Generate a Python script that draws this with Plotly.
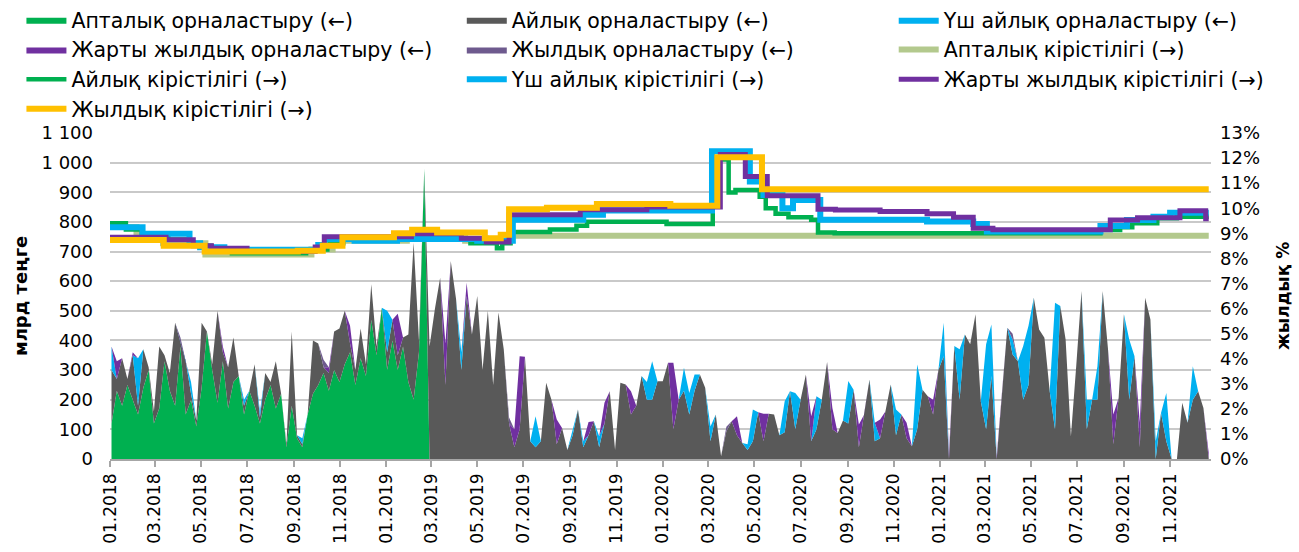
import pandas as pd
import plotly.graph_objects as go

# ---------------- data ----------------
weeks = pd.date_range("2018-01-03", periods=208, freq="7D")

# weekly notes placement (bln tenge), weeks 0..59 (none afterwards)
weekly_place = [120, 230, 180, 250, 200, 150, 240, 300, 120, 170,
                330, 230, 180, 380, 150, 200, 110, 240, 430, 300,
                190, 330, 170, 260, 280, 150, 230, 180, 120, 200,
                250, 170, 220, 40, 180, 70, 40, 150, 220, 250,
                290, 230, 300, 260, 320, 360, 250, 340, 280, 470,
                350, 510, 300, 400, 300, 380, 260, 200, 360, 980]

# monthly notes placement, weeks 0..207
monthly_place = [180, 40, 160, 20, 150, 30, 130, 10, 40, 210,
                 20, 60, 280, 10, 180, 20, 20, 220, 0, 20,
                 310, 30, 140, 150, 0, 30, 0, 140, 20, 90,
                 10, 160, 0, 10, 250, 10, 10, 0, 180, 140,
                 20, 60, 130, 180, 180, 30, 50, 100, 40, 120,
                 30, 0, 60, 70, 50, 30, 160, 530, 40, 0,
                 380, 505, 612, 250, 668, 540, 300, 550, 420, 550,
                 300, 500, 250, 494, 370, 120, 40, 100, 345, 60,
                 40, 60, 257, 200, 50, 105, 30, 80, 167, 40,
                 80, 127, 40, 120, 229, 30, 257, 251, 150, 180,
                 280, 200, 200, 262, 262, 325, 100, 200, 230, 150,
                 230, 285, 240, 60, 150, 9, 94, 127, 80, 54,
                 30, 60, 158, 60, 153, 150, 80, 90, 229, 100,
                 200, 285, 60, 100, 200, 327, 100, 88, 130, 120,
                 234, 40, 150, 268, 60, 70, 160, 251, 80, 150,
                 70, 43, 100, 234, 212, 150, 300, 347, 0, 381,
                 200, 420, 387, 488, 195, 100, 280, 0, 220, 443,
                 353, 330, 200, 250, 544, 437, 409, 229, 100, 516,
                 403, 76, 313, 567, 100, 200, 200, 567, 370, 50,
                 206, 488, 200, 347, 40, 544, 471, 0, 155, 60,
                 0, 0, 190, 122, 200, 229, 172, 0]

# three-month notes placement (week number -> value)
three_m_weeks = [0, 5, 15, 25, 28, 36, 52, 66, 80, 87, 89, 92, 101, 102, 108, 109, 110,
                 113, 120, 121, 127, 129, 133, 139, 144, 148, 152, 157, 160, 165, 166,
                 170, 172, 173, 178, 184, 186, 192, 197, 199, 204]
three_m_place = [80, 160, 40, 20, 20, 20, 140, 60, 104, 20, 20, 37, 60, 130, 78, 73, 55,
                 50, 20, 107, 105, 123, 112, 143, 62, 87, 219, 113, 170, 287, 174,
                 50, 181, 200, 427, 100, 113, 203, 60, 163, 113]

# six-month notes placement
half_y_weeks = [1, 4, 21, 41, 45, 54, 63, 67, 76, 77, 84, 90, 93, 98, 106, 118, 123,
                132, 136, 141, 145, 150, 155, 158, 167, 189, 194, 207]
half_y_place = [60, 10, 20, 20, 60, 140, 140, 45, 60, 247, 83, 45, 70, 79, 225, 64, 93,
                84, 72, 76, 63, 52, 50, 20, 10, 100, 82, 20]

# annual notes placement
year_weeks = [13, 40, 75, 116, 170]
year_place = [20, 25, 20, 15, 20]

# yields, % (change dates and levels)
wk_y_dates = ["2018-01-01", "2018-02-05", "2018-03-12", "2018-05-07", "2018-09-24",
              "2018-10-22", "2019-01-28", "2019-04-15", "2019-06-10", "2021-12-22"]
wk_y = [9.25, 8.95, 8.6, 8.15, 8.35, 8.7, 8.85, 8.7, 8.9, 8.9]

m_y_dates = ["2018-01-01", "2018-01-22", "2018-02-12", "2018-03-19", "2018-04-16",
             "2018-05-14", "2018-06-11", "2018-09-17", "2018-10-15", "2018-11-05",
             "2019-02-04", "2019-03-11", "2019-04-22", "2019-05-13", "2019-05-27",
             "2019-06-03", "2019-06-14", "2019-08-05", "2019-09-09", "2019-09-23",
             "2020-01-06", "2020-03-07", "2020-03-28", "2020-04-06", "2020-05-08",
             "2020-05-16", "2020-05-29", "2020-06-15", "2020-07-15", "2020-07-24",
             "2020-08-15", "2021-08-01", "2021-08-27", "2021-09-12", "2021-10-15",
             "2021-11-10", "2021-12-22"]
m_y = [9.4, 9.15, 8.95, 8.75, 8.5,
       8.3, 8.2, 8.35, 8.6, 8.8,
       8.9, 8.8, 8.6, 8.6, 8.4,
       8.6, 9.05, 9.15, 9.3, 9.46,
       9.37, 11.94, 10.63, 10.73, 10.46,
       10.0, 9.78, 9.64, 9.54, 9.03,
       9.0, 9.13, 9.24, 9.4, 9.6,
       9.66, 9.66]

q_y_dates = ["2018-01-01", "2018-02-13", "2018-04-16", "2018-04-30", "2018-06-01",
             "2018-10-03", "2018-10-12", "2018-11-20", "2019-01-15", "2019-05-01",
             "2019-06-17", "2019-09-18", "2019-10-14", "2020-03-06", "2020-04-25",
             "2020-05-13", "2020-06-07", "2020-06-21", "2020-07-27", "2020-12-15",
             "2021-02-14", "2021-03-04", "2021-08-01", "2021-09-05", "2021-10-10",
             "2021-11-01", "2021-12-22"]
q_y = [9.24, 8.98, 8.6, 8.44, 8.34,
       8.53, 8.77, 8.7, 8.77, 8.7,
       9.54, 9.74, 9.91, 12.27, 11.07,
       10.53, 10.0, 10.33, 9.54, 9.47,
       9.37, 9.07, 9.29, 9.53, 9.66,
       9.82, 9.82]

h_y_dates = ["2018-01-01", "2018-03-16", "2018-04-21", "2018-05-15", "2018-07-01",
             "2018-09-29", "2018-10-11", "2019-02-03", "2019-04-10", "2019-05-13",
             "2019-06-12", "2019-09-14", "2019-12-11", "2020-03-17", "2020-04-19",
             "2020-05-18", "2020-07-24", "2020-08-16", "2020-10-14", "2020-12-15",
             "2021-01-19", "2021-02-14", "2021-03-12", "2021-08-14", "2021-09-19",
             "2021-11-14", "2021-12-18", "2021-12-22"]
h_y = [8.84, 8.74, 8.5, 8.4, 8.27,
       8.45, 8.86, 8.98, 8.8, 8.65,
       9.74, 9.94, 10.05, 12.14, 11.27,
       10.5, 9.96, 9.93, 9.87, 9.78,
       9.64, 9.2, 9.14, 9.53, 9.62,
       9.9, 9.58, 9.58]

y_y_dates = ["2018-01-01", "2018-03-13", "2018-05-06", "2018-09-06", "2018-10-09",
             "2018-11-04", "2019-01-11", "2019-02-04", "2019-03-09", "2019-05-11",
             "2019-06-01", "2019-06-12", "2019-08-01", "2019-10-06", "2020-01-11",
             "2020-03-13", "2020-05-11", "2021-12-22"]
y_y = [8.73, 8.5, 8.27, 8.3, 8.5,
       8.84, 9.0, 9.14, 9.03, 8.8,
       8.94, 9.96, 10.02, 10.17, 10.1,
       12.03, 10.76, 10.76]

x_ticks = ["2018-01-01", "2018-03-01", "2018-05-01", "2018-07-01", "2018-09-01", "2018-11-01",
           "2019-01-01", "2019-03-01", "2019-05-01", "2019-07-01", "2019-09-01", "2019-11-01",
           "2020-01-01", "2020-03-01", "2020-05-01", "2020-07-01", "2020-09-01", "2020-11-01",
           "2021-01-01", "2021-03-01", "2021-05-01", "2021-07-01", "2021-09-01", "2021-11-01"]
x_tick_text = ["01.2018", "03.2018", "05.2018", "07.2018", "09.2018", "11.2018",
               "01.2019", "03.2019", "05.2019", "07.2019", "09.2019", "11.2019",
               "01.2020", "03.2020", "05.2020", "07.2020", "09.2020", "11.2020",
               "01.2021", "03.2021", "05.2021", "07.2021", "09.2021", "11.2021"]
y_ticks = [0, 100, 200, 300, 400, 500, 600, 700, 800, 900, 1000, 1100]
y_tick_text = ["0", "100", "200", "300", "400", "500", "600", "700", "800", "900", "1 000", "1 100"]
y2_ticks = [0, 1, 2, 3, 4, 5, 6, 7, 8, 9, 10, 11, 12, 13]
y2_tick_text = ["0%", "1%", "2%", "3%", "4%", "5%", "6%", "7%", "8%", "9%", "10%", "11%", "12%", "13%"]

left_title = "млрд теңге"
right_title = "жылдық %"

# ---------------- figure ----------------
FONT = "DejaVu Sans"
fig = go.Figure()

areas = [
    ("Апталық орналастыру (←)", weeks[:len(weekly_place)], weekly_place, "#00B050", "legend"),
    ("Айлық орналастыру (←)", weeks, monthly_place, "#595959", "legend2"),
    ("Үш айлық орналастыру (←)", weeks[three_m_weeks], three_m_place, "#00B0F0", "legend3"),
    ("Жарты жылдық орналастыру (←)", weeks[half_y_weeks], half_y_place, "#7030A0", "legend"),
    ("Жылдық орналастыру (←)", weeks[year_weeks], year_place, "#6E5A8E", "legend2"),
]
for name, x, y, col, lg in areas:
    fig.add_trace(go.Scatter(x=x, y=y, name=name, stackgroup="place", mode="lines",
                             line=dict(width=0, color=col), fillcolor=col,
                             legend=lg, yaxis="y", hoverinfo="skip"))

lines = [
    ("Апталық кірістілігі (→)", wk_y_dates, wk_y, "#B3C98D", 6, "legend3"),
    ("Айлық кірістілігі (→)", m_y_dates, m_y, "#00B050", 4.5, "legend"),
    ("Үш айлық кірістілігі (→)", q_y_dates, q_y, "#00B0F0", 6, "legend2"),
    ("Жарты жылдық кірістілігі (→)", h_y_dates, h_y, "#7030A0", 5, "legend3"),
    ("Жылдық кірістілігі (→)", y_y_dates, y_y, "#FFC000", 6, "legend"),
]
for name, x, y, col, w, lg in lines:
    fig.add_trace(go.Scatter(x=x, y=y, name=name, mode="lines",
                             line=dict(color=col, width=w, shape="hv"),
                             legend=lg, yaxis="y2", hoverinfo="skip"))

leg_common = dict(orientation="v", xref="container", yref="container", yanchor="top",
                  xanchor="left", y=1.0, font=dict(family=FONT, size=20.5, color="#000"),
                  itemwidth=40, traceorder="normal", bgcolor="rgba(0,0,0,0)",
                  tracegroupgap=0)

fig.update_layout(
    width=1299, height=552,
    margin=dict(l=110, r=88, t=133, b=93, autoexpand=False),
    paper_bgcolor="white", plot_bgcolor="white",
    font=dict(family=FONT, color="#000"),
    showlegend=True,
    legend=dict(leg_common, x=0.0165),
    legend2=dict(leg_common, x=0.3555),
    legend3=dict(leg_common, x=0.688),
    xaxis=dict(type="date", range=["2018-01-01", "2021-12-25"],
               tickvals=x_ticks, ticktext=x_tick_text, tickangle=-90,
               tickfont=dict(size=17), ticks="outside", ticklen=6, tickcolor="#A6A6A6",
               tickwidth=1.5, showline=True, linecolor="#A6A6A6", linewidth=1.5,
               showgrid=False, zeroline=False, automargin=False),
    yaxis=dict(range=[0, 1100], tickvals=y_ticks, ticktext=y_tick_text,
               tickfont=dict(size=18), showgrid=True, gridcolor="#C9C9C9", gridwidth=1.5,
               zeroline=False, showline=False, ticklabelstandoff=16, automargin=False),
    yaxis2=dict(range=[0, 13], overlaying="y", side="right", tickvals=y2_ticks,
                ticktext=y2_tick_text, tickfont=dict(size=18), showgrid=False,
                zeroline=False, showline=False, ticklabelstandoff=8, automargin=False),
    annotations=[
        dict(text="<b>" + left_title + "</b>", xref="paper", yref="paper",
             x=-0.0817, y=0.5, textangle=-90, showarrow=False,
             font=dict(size=18, family=FONT, color="#000"), xanchor="center", yanchor="middle"),
        dict(text="<b>" + right_title + "</b>", xref="paper", yref="paper",
             x=1.0655, y=0.5, textangle=-90, showarrow=False,
             font=dict(size=17, family=FONT, color="#000"), xanchor="center", yanchor="middle"),
    ],
)

fig.write_html("out.html", config={"displayModeBar": False},
               post_script="document.body.style.margin='0';")
